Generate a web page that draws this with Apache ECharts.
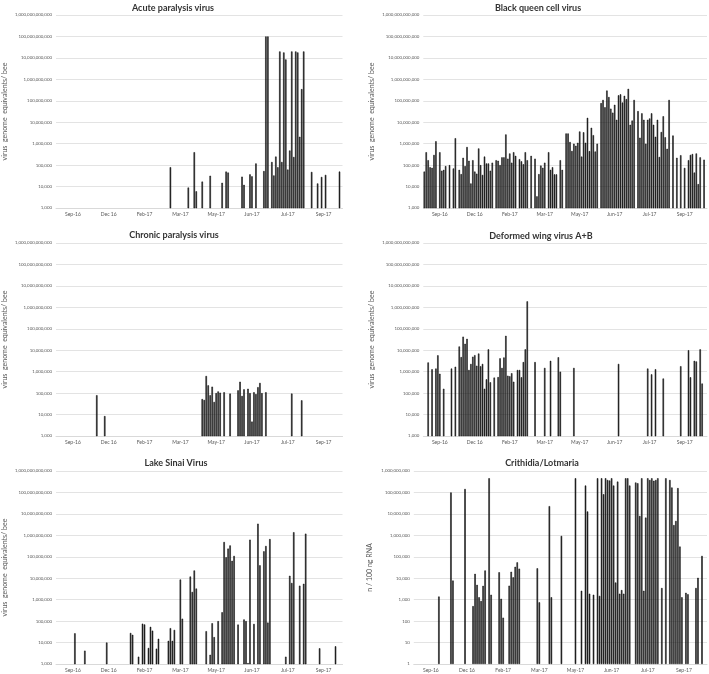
<!DOCTYPE html>
<html><head><meta charset="utf-8">
<script src="https://cdn.jsdelivr.net/npm/echarts@6/dist/echarts.min.js"></script>
<style>html,body{margin:0;padding:0;background:#fff}#c{width:709px;height:674px}</style>
</head><body><div id="c"></div>
<script>
// x-axis: sample slots; labels shown every 18th sample
const tickLabels = ['Sep-16','Dec 16','Feb-17','Mar-17','May-17','Jun-17','Jul-17','Sep-17'];
const tickIndex = [8,26,44,62,80,98,116,134];
const titles = ['Acute paralysis virus','Black queen cell virus','Chronic paralysis virus','Deformed wing virus A+B','Lake Sinai Virus','Crithidia/Lotmaria'];
const yNames = ['virus  genome  equivalents/ bee','virus  genome  equivalents/ bee','virus  genome  equivalents/ bee','virus  genome  equivalents/ bee','virus  genome  equivalents/ bee','n / 100 ng RNA'];

// [sample index, value]
const apv = [[57,8e4],[66,9e3],[69,4e5],[70,6e3],[73,1.7e4],[77,3.2e4],[83,1.5e4],[85,5e4],[86,4.5e4],[93,2.9e4],[94,1.2e4],[97,3.7e4],[98,3e4],[100,1.2e5],[104,5.3e4],[105,1e11],[106,1e11],[108,1.4e5],[109,3.3e4],[110,2.5e5],[111,8e4],[112,2e10],[113,1.4e5],[114,1.8e10],[115,8.5e9],[116,6.2e4],[117,4.8e5],[118,2e10],[119,2.4e5],[120,2e10],[121,1.8e10],[122,2.1e6],[123,3.5e8],[124,2e10],[128,4.8e4],[131,1.4e4],[133,2.8e4],[135,3.5e4],[142,5e4]];

const bqcv = [5e4,4e5,1.7e5,8e4,7.5e4,3e5,1.3e6,null,4e5,5.5e4,
 6e4,9e4,null,1e5,null,7e4,1.8e6,null,6e4,3.8e4,
 2.2e5,9e4,7e5,1.6e5,1.4e4,1.7e5,5e4,4e4,6e5,1e5,
 3.5e4,2.5e5,1.2e5,1.2e5,5.5e4,1.3e5,null,1.7e5,1.6e5,1e5,
 2.3e5,2.3e5,2.7e6,2e5,3.5e5,1.3e5,4e5,2.7e5,null,1.9e5,
 1.5e5,1.1e5,4e5,1.7e5,null,2.7e5,null,2e5,3.5e3,3.8e4,
 9.5e4,7.5e4,1.3e5,null,4e5,6e4,8e4,3.7e4,3.7e4,null,
 1.7e5,6e4,null,3e6,3e6,1.2e6,4.6e5,1e6,8e5,1.1e6,
 3.7e6,2.5e5,3.4e6,1.1e6,1.6e7,4.5e5,5.5e6,2.5e6,4.3e5,1e6,
 null,7.8e7,1.1e8,5e7,3e8,1.5e8,4.3e7,2.8e7,6.5e7,1.3e7,
 1.8e8,2e8,8.3e7,1.7e8,1.2e8,3.6e8,7.6e6,1.2e7,1.1e8,null,
 3.3e7,1.9e6,2.6e7,1.3e7,1e6,1.3e7,1.5e7,2.6e7,7.6e6,2.1e6,
 1.3e7,2.4e5,3.5e6,1.9e7,2e6,5.8e5,1.1e8,null,2.4e6,null,
 2.2e5,null,2.9e5,null,7.4e4,null,1.7e5,3e5,3.3e5,4.5e4,
 3.5e5,1.3e4,2.3e5,null,1.8e5,null];

const cpv = [[20,8e4],[24,8.5e3],[73,5.3e4],[74,4.8e4],[75,6.3e5],[76,2.3e5],[77,8e4],[78,2e5],[79,3.9e4],[80,1e5],[81,1.2e5],[82,1.05e5],[84,1.1e5],[87,9.5e4],[91,1.35e5],[92,3.4e5],[93,7.4e4],[94,1.5e5],[96,1.6e5],[97,1e5],[98,4.7e3],[99,1.1e5],[100,9e4],[101,1.9e5],[102,3e5],[103,1e5],[105,1.1e5],[118,9.5e4],[123,4.6e4]];

const dwv = [[2,2.7e6],[4,1.3e6],[6,1.4e6],[7,5.8e6],[8,8e5],[10,1.6e5],[14,1.4e6],[16,1.7e6],[18,1.5e7],[19,4.8e6],[20,4.3e7],[21,2e7],[22,3.4e7],[23,1.2e6],[24,2.3e6],[25,5e6],[26,5.9e6],[27,1.9e6],[28,7e6],[29,1.8e6],[30,2.3e6],[31,1.6e5],[32,4.4e5],[33,1.1e7],[34,3.2e5],[36,5.3e5],[38,5.6e5],[39,4.2e6],[40,1.5e6],[41,4.6e6],[42,4.7e7],[43,6.5e5],[44,6.1e5],[45,8.5e5],[46,3.4e5],[48,1.2e6],[49,1.2e6],[50,5.5e5],[51,2.8e6],[52,1.1e7],[53,1.9e9],[57,2.8e6],[62,1.5e6],[65,3.2e6],[69,4.7e6],[70,1e6],[77,1.5e6],[100,2.3e6],[115,1.4e6],[117,7.5e5],[119,1.3e6],[123,4.8e5],[132,1.8e6],[136,1e7],[137,5.5e5],[139,3.2e6],[140,3e6],[142,1.1e7],[143,2.8e5]];

const lsv = [[9,2.7e4],[14,4.2e3],[25,1e4],[37,2.8e4],[38,2.3e4],[41,2.2e3],[43,7.6e4],[44,7e4],[46,5.6e3],[47,5.4e4],[48,3.6e4],[50,5.2e3],[51,1.5e4],[56,1.2e4],[57,4.7e4],[58,1.2e4],[59,3.9e4],[62,8.7e6],[63,1.3e5],[67,1.2e7],[68,2.3e6],[69,2.3e7],[70,3.3e6],[75,3.4e4],[77,2.7e3],[78,8e4],[79,1.8e4],[81,1e5],[83,2.6e5],[84,4.9e8],[85,9.5e7],[86,2.4e8],[87,3.4e8],[88,6.5e7],[89,1.1e8],[91,6.9e4],[94,1.2e5],[95,1e5],[96,1.1e3],[97,6.3e8],[99,7.4e4],[101,3.5e9],[102,4e7],[104,1.8e8],[105,3.2e8],[106,8.5e4],[107,6.7e8],[115,2.2e3],[117,1.3e7],[118,6e6],[119,1.4e9],[122,4.5e6],[124,5.5e6],[125,1.2e9],[132,5.4e3],[140,6.7e3]];

const crith = [[12,1.4e3],[18,1e8],[19,7.8e3],[25,1.45e8],[29,500],[30,1.6e4],[31,4.9e3],[32,1.3e3],[33,870],[34,4.4e3],[35,2.3e4],[37,4.6e8],[38,1.7e3],[42,1.9e4],[43,1.1e3],[44,145],[47,4.5e3],[48,2e4],[49,1.1e4],[50,3.4e4],[51,5.5e4],[52,2.8e4],[61,2.9e4],[62,750],[67,2.3e7],[68,1.3e3],[73,9.4e5],[80,4.6e8],[83,2.6e3],[85,2.1e8],[86,1.3e7],[87,1.9e3],[89,1.7e3],[91,4.6e8],[92,1.5e3],[93,4.6e8],[94,8.3e7],[95,4.6e8],[96,3.8e8],[97,3.6e8],[98,4.6e8],[99,2.1e8],[100,6.3e3],[101,3.2e8],[102,1.9e3],[103,2.8e3],[104,1.9e3],[105,4.6e8],[106,4.6e8],[107,2.1e8],[110,2.9e8],[111,2.7e8],[112,8e6],[113,4.6e8],[114,2.6e3],[115,6.7e6],[116,4.6e8],[117,3.8e8],[118,4.6e8],[119,3.5e8],[120,3.8e8],[121,4.6e8],[123,3.5e3],[125,4.6e8],[127,3.8e8],[128,1.7e8],[129,3e6],[130,4.7e6],[131,1.6e8],[132,3e5],[133,1.3e3],[135,2.1e3],[136,1.8e3],[140,3.5e3],[141,1.05e4],[143,1.1e5]];

const seriesData = [apv, bqcv, cpv, dwv, lsv, crith];

// layout (pixels)
const panels = [
  {left:55.5, top:15, width:287, n:144, tx:168, ty:-1, gap:48, min:1e3, max:1e12},
  {left:423.3, top:15, width:286.2, n:146, tx:533, ty:-1, gap:48, min:1e3, max:1e12},
  {left:55.5, top:243, width:287, n:144, tx:169, ty:226, gap:48, min:1e3, max:1e12},
  {left:423.3, top:243, width:286.2, n:146, tx:536, ty:227, gap:48, min:1e3, max:1e12},
  {left:55.5, top:471, width:287, n:144, tx:171, ty:454, gap:48, min:1e3, max:1e12},
  {left:413.8, top:471, width:296.4, n:146, tx:537, ty:454, gap:41, min:1, max:1e9}
];
const FONT = 'Lato, "Open Sans", sans-serif';

function cats(n){
  const a = [];
  for (let i=0;i<n;i++){ const k = tickIndex.indexOf(i); a.push(k>=0 ? tickLabels[k] : ''); }
  return a;
}

const option = {animation:false, title:[], grid:[], xAxis:[], yAxis:[], series:[]};
panels.forEach((p,i)=>{
  option.title.push({text:titles[i], left:p.tx, top:p.ty, textAlign:'center',
    textStyle:{fontFamily:FONT, fontSize:9, fontWeight:'bold', color:'#333'}});
  option.grid.push({left:p.left, top:p.top, width:p.width, height:193, containLabel:false});
  option.xAxis.push({type:'category', gridIndex:i, data:cats(p.n), boundaryGap:true,
    axisTick:{show:false}, axisLine:{lineStyle:{color:'#d9d9d9', width:1}},
    axisLabel:{interval:0, margin:4, fontSize:5, fontFamily:FONT, color:'#595959'},
    splitLine:{show:false}});
  option.yAxis.push({type:'log', logBase:10, gridIndex:i, min:p.min, max:p.max, splitNumber:9,
    name:yNames[i], nameLocation:'middle', nameGap:p.gap,
    nameTextStyle:{fontFamily:FONT, fontSize:7, color:'#595959'},
    axisLine:{show:false}, axisTick:{show:false},
    axisLabel:{margin:4, fontSize:4.4, fontFamily:FONT, color:'#595959',
      formatter:v=>Math.round(v).toLocaleString('en-US')},
    splitLine:{show:true, lineStyle:{color:'#e3e3e3', width:1}}});
  option.series.push({type:'bar', xAxisIndex:i, yAxisIndex:i, data:seriesData[i],
    barWidth:'72%', silent:true,
    itemStyle:{color:'#2b2b2b', borderColor:'#000', borderWidth:0.5}});
});
const chart = echarts.init(document.getElementById('c'), null, {renderer:'canvas'});
chart.setOption(option);
</script></body></html>
